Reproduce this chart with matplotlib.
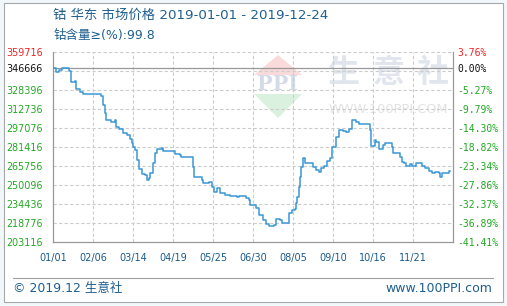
import numpy as np
import pandas as pd
import matplotlib
matplotlib.use('Agg')
import matplotlib.pyplot as plt
from matplotlib.patches import Rectangle, Polygon
from matplotlib.lines import Line2D

# ---------------- data ----------------
title = '钴 华东 市场价格 2019-01-01 - 2019-12-24'
subtitle = '钴含量≥(%):99.8'
footer_left = '© 2019.12 生意社'
footer_right = 'www.100PPI.com'
start_date = '2019-01-01'

days = [0, 3, 5, 8, 12, 14, 16, 20, 21, 24, 27, 43, 45, 47, 48, 52, 56, 57, 59, 63,
        67, 69, 71, 72, 74, 76, 77, 80, 83, 85, 86, 87, 90, 92, 94, 98, 99, 110, 114, 115,
        126, 127, 132, 134, 135, 140, 143, 145, 148, 150, 155, 159, 166, 167, 174, 176, 177, 183, 185, 189,
        192, 194, 199, 201, 204, 206, 212, 215, 218, 219, 220, 221, 222, 223, 225, 227, 234, 237, 239, 241,
        244, 247, 249, 251, 253, 255, 257, 261, 264, 266, 269, 273, 275, 285, 286, 290, 291, 293, 297, 299,
        305, 306, 311, 312, 314, 316, 318, 321, 323, 327, 332, 335, 338, 341, 344, 347, 348, 350, 356, 357]
prices = [346666, 342985, 344880, 346282, 346282, 344056, 335237, 336061, 328973, 326501, 325100, 323451, 316033, 309193, 303423, 302022, 303670, 298148, 296253, 293203,
          291307, 288011, 284467, 281170, 278944, 270702, 263037, 259164, 258339, 254218, 255867, 259741, 268230, 276719, 279521, 280346, 278367, 275400, 274576, 272928,
          265180, 256938, 256444, 254218, 251499, 252323, 248696, 244575, 247378, 243751, 241855, 241031, 240207, 241031, 239136, 237734, 233613, 230894, 225371, 221250,
          217708, 216305, 217129, 221827, 221250, 219025, 226773, 229492, 230069, 235015, 240454, 248696, 256444, 265180, 272104, 267983, 265180, 262460, 260565, 263861,
          266004, 269878, 272104, 281170, 281664, 289906, 295428, 294851, 294027, 296005, 303670, 302269, 300374, 295428, 282241, 287186, 285785, 279521, 283065, 284961,
          281170, 276719, 276225, 273422, 269301, 267983, 265757, 267406, 265757, 267983, 265757, 263861, 261636, 259741, 261059, 260235, 256938, 260235, 261636, 261636]

x_tick_labels = ['01/01', '02/06', '03/14', '04/19', '05/25', '06/30', '08/05', '09/10', '10/16', '11/21']
y_min, y_max = 203116, 359716
base_price = 346666
y_left_values = [359716, 346666, 328396, 312736, 297076, 281416, 265756, 250096, 234436, 218776, 203116]
y_right_labels = ['3.76%', '0.00%', '-5.27%', '-9.79%', '-14.30%', '-18.82%', '-23.34%',
                  '-27.86%', '-32.37%', '-36.89%', '-41.41%']
x_end_days = 360

# ---------------- figure ----------------
W, H = 507, 306
fig = plt.figure(figsize=(W / 100, H / 100), dpi=100, facecolor='#f2f7fc')


def fx(x):
    return x / W


def fy(y):
    return 1 - y / H


cjk = ['DejaVu Sans', 'Noto Sans CJK SC']
blue_txt = '#1f5f8f'

fig.add_artist(Rectangle((fx(3.5), fy(301.5)), 499 / W, 299 / H, transform=fig.transFigure,
                         facecolor='white', edgecolor='#a8a8a8', lw=0.8, zorder=-10))

# watermark
fig.add_artist(Polygon([[fx(278), fy(55)], [fx(254), fy(75)], [fx(302), fy(75)]], closed=True,
                       transform=fig.transFigure, facecolor='#fadada', edgecolor='none', zorder=-5))
fig.add_artist(Polygon([[fx(254), fy(94)], [fx(302), fy(94)], [fx(278), fy(118)]], closed=True,
                       transform=fig.transFigure, facecolor='#dbf1df', edgecolor='none', zorder=-5))
fig.text(fx(278), fy(84.5), 'PPI', fontsize=15, family='DejaVu Serif', weight='bold',
         color='#d3dbe8', ha='center', va='center', zorder=-5)
for ch, cx in zip('生意社', [343, 389, 433]):
    fig.text(fx(cx), fy(73), ch, fontsize=23, family='Noto Sans CJK SC', weight='bold',
             color='#e1e5ee', ha='center', va='center', zorder=-5)
fig.text(fx(388.5), fy(109), 'WWW.100PPI.COM', fontsize=9.3, family='DejaVu Sans',
         color='#e3e3e3', ha='center', va='center', zorder=-5)

# axes
ax = fig.add_axes([fx(53), fy(242), 400 / W, 190 / H])
ax.set_facecolor('none')
t0 = pd.Timestamp(start_date)
x = t0 + pd.to_timedelta(days, unit='D')
tick_dates = [pd.Timestamp('2019/' + s) for s in x_tick_labels]

ax.set_xlim(t0, t0 + pd.Timedelta(days=x_end_days))
ax.set_ylim(y_min, y_max)

dash = (0, (3, 2))
for v in np.linspace(y_min, y_max, 11)[1:]:
    ax.axhline(v, color='#cccccc', lw=0.8, ls=dash, zorder=1)
for t in tick_dates[1:]:
    ax.axvline(t, color='#cccccc', lw=0.8, ls=dash, zorder=1)
ax.axhline(base_price, color='#999999', lw=0.9, zorder=2)

ax.plot(x, prices, drawstyle='steps-post', color='#3b97d6', lw=1.1, zorder=3)

for s in ['left', 'right', 'bottom']:
    ax.spines[s].set_color('#999999')
    ax.spines[s].set_linewidth(0.9)
ax.spines['top'].set_visible(False)

ax.set_xticks(tick_dates)
ax.set_xticklabels(x_tick_labels)
ax.tick_params(axis='x', length=0, pad=8, labelsize=7, labelcolor='#1a5a8a')

left_colors = ['#ee2222', '#111111'] + ['#22a822'] * (len(y_left_values) - 2)
ax.set_yticks(y_left_values)
ax.set_yticklabels([str(v) for v in y_left_values])
ax.tick_params(axis='y', length=0, pad=7.5, labelsize=6.9)
for lbl, c in zip(ax.get_yticklabels(), left_colors):
    lbl.set_color(c)

ax2 = ax.twinx()
ax2.set_ylim(y_min, y_max)
ax2.set_yticks(y_left_values)
ax2.set_yticklabels(y_right_labels, family='DejaVu Sans Mono')
ax2.tick_params(axis='y', length=0, pad=3, labelsize=7)
for lbl, c in zip(ax2.get_yticklabels(), left_colors):
    lbl.set_color(c)
for s in ax2.spines.values():
    s.set_visible(False)

# texts
fig.text(fx(53), fy(15), title, fontsize=9.6, color=blue_txt, ha='left', va='center', family=cjk)
fig.text(fx(53), fy(36), subtitle, fontsize=9, color=blue_txt, ha='left', va='center', family=cjk)
fig.add_artist(Line2D([fx(13), fx(493)], [fy(277.5), fy(277.5)], transform=fig.transFigure,
                      color='#a0a0a0', lw=0.8))
fig.text(fx(13), fy(288.5), footer_left, fontsize=9, color=blue_txt, ha='left', va='center', family=cjk)
fig.text(fx(492), fy(288.5), footer_right, fontsize=9, color=blue_txt, ha='right', va='center',
         family='DejaVu Sans')

fig.savefig('out.png', dpi=100, facecolor=fig.get_facecolor())
